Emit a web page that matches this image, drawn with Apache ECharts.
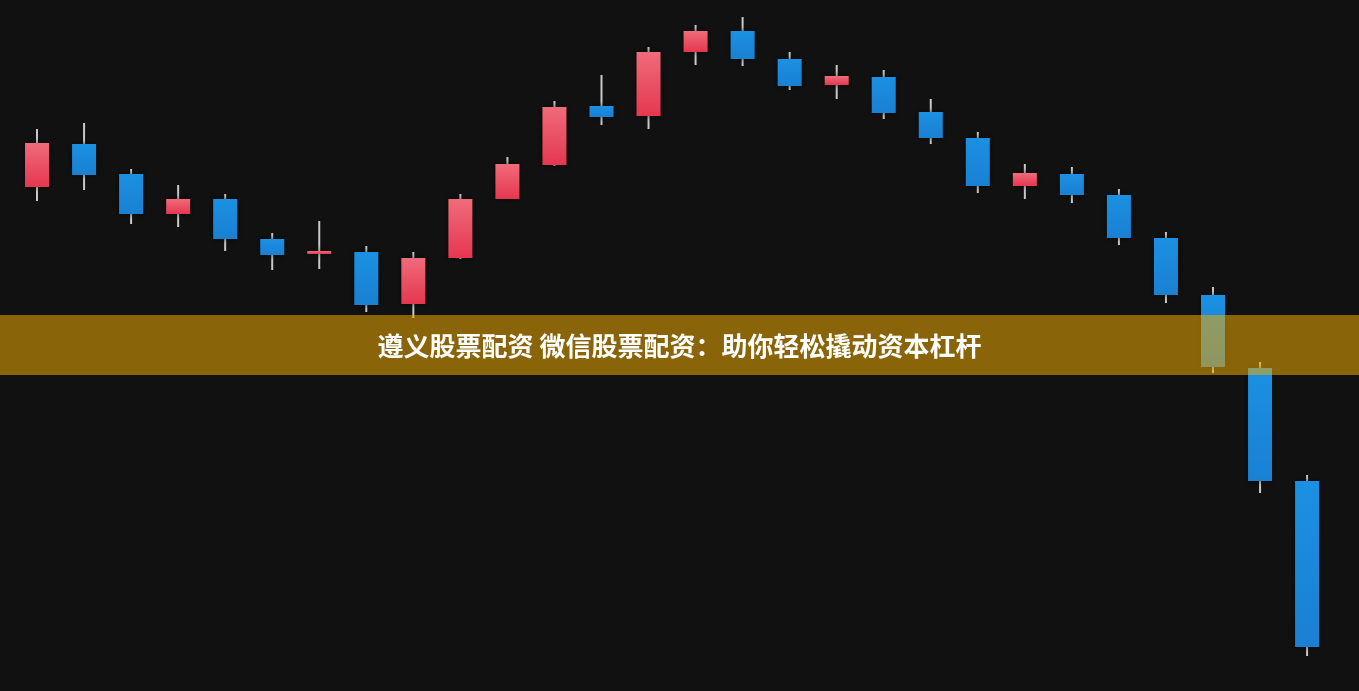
<!DOCTYPE html>
<html>
<head>
<meta charset="utf-8">
<script src="https://cdn.jsdelivr.net/npm/echarts@6/dist/echarts.min.js"></script>
<style>
html,body{margin:0;padding:0;background:#111111;}
#chart{width:1359px;height:691px;}
</style>
</head>
<body>
<div id="chart"></div>
<script>
const categories = ['1','2','3','4','5','6','7','8','9','10','11','12','13','14','15','16','17','18','19','20','21','22','23','24','25','26','27','28'];
const opens  = [50.4,54.7,51.7,47.7,49.2,45.2,43.7,43.9,38.7,43.3,49.2,52.6,58.5,57.5,63.9,66.0,63.2,60.6,61.4,57.9,55.3,50.5,51.7,49.6,45.3,39.6,32.3,21.0];
const closes = [54.8,51.6,47.7,49.2,45.2,43.6,44.0,38.6,43.3,49.2,52.7,58.4,57.4,63.9,66.0,63.2,60.5,61.5,57.8,55.3,50.5,51.8,49.6,45.3,39.6,32.4,21.0,4.4];
const lows   = [49.0,50.1,46.7,46.4,44.0,42.1,42.2,37.9,37.3,43.2,49.2,52.5,56.6,56.2,62.6,62.5,60.1,59.2,57.2,54.7,49.8,49.2,48.8,44.6,38.8,31.8,19.8,3.5];
const highs  = [56.2,56.8,52.2,50.6,49.7,45.8,47.0,44.5,43.9,49.7,53.4,59.0,61.6,64.4,66.6,67.4,63.9,62.6,62.1,59.2,55.9,52.7,52.4,50.2,45.9,40.4,32.9,21.6];
const title = '遵义股票配资 微信股票配资：助你轻松撬动资本杠杆';

const data = categories.map((c, i) => [i, opens[i], closes[i], lows[i], highs[i]]);

const upFill = new echarts.graphic.LinearGradient(0,0,0,1,[{offset:0,color:'#ef6b7b'},{offset:1,color:'#e5374f'}]);
const downFill = new echarts.graphic.LinearGradient(0,0,0,1,[{offset:0,color:'#1b90e2'},{offset:1,color:'#1a80d2'}]);

const chart = echarts.init(document.getElementById('chart'));
chart.setOption({
  backgroundColor: '#111111',
  animation: false,
  grid: {left: 13.5, width: 1317.1, top: 0, bottom: 0},
  xAxis: {type: 'category', data: categories, boundaryGap: true, show: false},
  yAxis: {type: 'value', min: 0, max: 69.1, show: false},
  series: [{
    type: 'custom',
    data: data,
    encode: {x: 0, y: [1,2,3,4]},
    renderItem: function (params, api) {
      const idx = api.value(0);
      const o = api.value(1), c = api.value(2), l = api.value(3), h = api.value(4);
      const pO = api.coord([idx, o]);
      const pC = api.coord([idx, c]);
      const pL = api.coord([idx, l]);
      const pH = api.coord([idx, h]);
      const bw = 24;
      const x = pO[0];
      const top = Math.min(pO[1], pC[1]);
      const bot = Math.max(pO[1], pC[1]);
      const up = c >= o;
      return {
        type: 'group',
        children: [
          {type: 'line', shape: {x1: x, y1: pH[1], x2: x, y2: pL[1]}, style: {stroke: '#c9c9c9', lineWidth: 2}},
          {type: 'rect', shape: {x: x - bw/2, y: top, width: bw, height: Math.max(bot - top, 2.5)},
           style: {fill: up ? upFill : downFill, shadowBlur: 6, shadowColor: 'rgba(0,0,0,0.6)'}}
        ]
      };
    }
  }],
  graphic: [
    {type: 'rect', left: 0, top: 315, z: 100, shape: {width: 1359, height: 60}, style: {fill: 'rgba(239,170,1,0.55)'}},
    {type: 'text', left: 'center', top: 333, z: 101,
     style: {text: title, fill: '#ffffff', font: 'bold 26px "Noto Sans CJK SC", sans-serif'}}
  ]
});
</script>
</body>
</html>
